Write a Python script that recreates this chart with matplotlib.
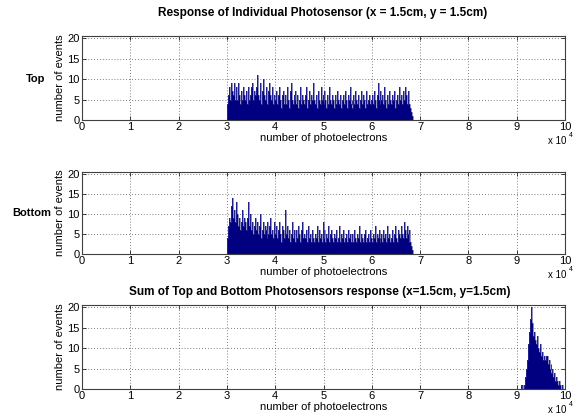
import numpy as np
import matplotlib.pyplot as plt

plt.rcParams['font.family'] = ['Liberation Sans', 'DejaVu Sans']

# histogram counts, bins of 200 photoelectrons
bin_w = 200

top_start = 30000
top_counts = [
    4, 6, 8, 5, 9, 7, 6, 9, 5, 8,
    5, 7, 9, 6, 4, 7, 5, 8, 6, 5,
    7, 4, 8, 5, 6, 8, 9, 5, 7, 6,
    8, 11, 6, 5, 9, 4, 7, 10, 6, 5,
    8, 5, 4, 7, 9, 6, 5, 8, 4, 6,
    5, 7, 4, 6, 8, 5, 3, 6, 7, 4,
    6, 4, 8, 5, 3, 7, 9, 5, 4, 6,
    5, 7, 4, 6, 3, 5, 8, 4, 6, 5,
    4, 6, 8, 3, 5, 7, 4, 6, 5, 9,
    5, 4, 6, 3, 7, 5, 4, 8, 5, 6,
    4, 7, 5, 3, 6, 4, 8, 5, 4, 6,
    5, 3, 6, 4, 7, 5, 4, 6, 3, 5,
    6, 4, 7, 5, 3, 6, 5, 8, 4, 5,
    3, 6, 4, 7, 5, 4, 6, 3, 5, 7,
    4, 6, 5, 3, 7, 4, 5, 6, 4, 5,
    6, 4, 7, 5, 3, 6, 9, 5, 4, 7,
    5, 6, 4, 8, 5, 3, 6, 4, 7, 5,
    4, 6, 5, 7, 3, 5, 6, 4, 8, 5,
    6, 4, 7, 5, 8, 6, 4, 7, 6, 4,
    3, 2, 1,
]

bottom_start = 30000
bottom_counts = [
    4, 7, 9, 8, 12, 14, 9, 11, 8, 13,
    10, 8, 7, 9, 6, 8, 11, 7, 9, 8,
    6, 9, 13, 7, 10, 6, 8, 5, 7, 9,
    6, 8, 5, 7, 10, 4, 6, 8, 5, 7,
    6, 4, 8, 5, 7, 9, 5, 6, 4, 8,
    5, 7, 4, 6, 8, 5, 3, 7, 6, 4,
    11, 5, 7, 4, 6, 3, 5, 8, 4, 6,
    5, 3, 6, 4, 7, 5, 3, 6, 8, 4,
    5, 4, 6, 3, 7, 4, 5, 3, 6, 4,
    3, 5, 4, 7, 3, 6, 4, 5, 3, 8,
    4, 6, 3, 5, 4, 7, 3, 5, 6, 4,
    3, 5, 4, 6, 3, 4, 7, 3, 5, 4,
    6, 3, 4, 5, 3, 6, 4, 5, 3, 4,
    5, 3, 6, 4, 3, 5, 4, 7, 3, 5,
    4, 3, 5, 6, 3, 4, 5, 3, 6, 4,
    3, 5, 4, 7, 3, 5, 4, 6, 3, 4,
    5, 3, 6, 4, 5, 3, 7, 4, 5, 3,
    4, 6, 3, 5, 7, 4, 3, 6, 5, 4,
    7, 5, 4, 8, 6, 4, 7, 5, 3, 6,
    3, 2, 1,
]

sum_start = 90800
sum_counts = [
    1, 0, 1, 0, 1, 3, 5, 7, 11, 14,
    17, 20, 16, 13, 14, 12, 11, 13, 10, 9,
    11, 8, 9, 7, 8, 7, 8, 8, 6, 7,
    5, 6, 4, 5, 3, 4, 2, 3, 2, 1,
    2, 1, 0, 1,
]

bar_color = '#000080'
fs = 8

fig = plt.figure(figsize=(5.79, 4.19), dpi=100)

left, width = 82 / 579, 483 / 579
boxes = [
    (1 - 120 / 419, 84 / 419),
    (1 - 254 / 419, 82 / 419),
    (1 - 389 / 419, 84 / 419),
]
data = [(top_start, top_counts), (bottom_start, bottom_counts), (sum_start, sum_counts)]

axes = []
for (b, h), (start, counts) in zip(boxes, data):
    ax = fig.add_axes([left, b, width, h])
    edges = start + bin_w * np.arange(len(counts) + 1)
    ax.stairs(counts, edges, fill=True, color=bar_color, zorder=2)
    ax.stairs(counts, edges, fill=False, color='#3a3a98', linewidth=0.4, zorder=3)
    ax.set_xlim(0, 100000)
    ax.set_ylim(0, 20.5)
    ax.set_xticks(np.arange(0, 100001, 10000))
    ax.set_xticklabels([str(i) for i in range(11)])
    ax.set_yticks([0, 5, 10, 15, 20])
    ax.tick_params(direction='in', top=True, right=True, length=3, width=0.6,
                   labelsize=fs, pad=1.5, colors='#202020', labelcolor='black')
    ax.grid(True, linestyle=(0, (1, 2.5)), color='#555555', linewidth=0.6, zorder=0)
    for s in ax.spines.values():
        s.set_color('#404040')
        s.set_linewidth(0.8)
    ax.set_xlabel('number of photoelectrons', fontsize=fs, labelpad=1)
    ax.set_ylabel('number of events', fontsize=fs)
    ax.yaxis.set_label_coords(-0.035, 0.5)
    ax.text(0.983, -0.25, 'x 10', transform=ax.transAxes, fontsize=7, ha='center', va='center')
    ax.text(1.013, -0.19, '4', transform=ax.transAxes, fontsize=5, ha='center', va='center')
    axes.append(ax)

fig.text(0.558, 1 - 13 / 419, 'Response of Individual Photosensor (x = 1.5cm, y = 1.5cm)',
         fontsize=8.5, fontweight='bold', ha='center', va='center')
fig.text(0.553, 1 - 292 / 419, 'Sum of Top and Bottom Photosensors response (x=1.5cm, y=1.5cm)',
         fontsize=8.5, fontweight='bold', ha='center', va='center')
fig.text(36 / 579, 1 - 79 / 419, 'Top', fontsize=8, fontweight='bold', ha='center', va='center')
fig.text(32 / 579, 1 - 213 / 419, 'Bottom', fontsize=8, fontweight='bold', ha='center', va='center')

fig.savefig('out.png', dpi=100)
